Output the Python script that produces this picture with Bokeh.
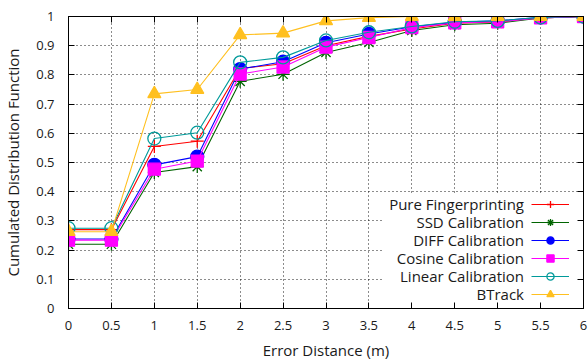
from bokeh.plotting import figure
from bokeh.models import (Range1d, FixedTicker, LinearAxis, Legend, LegendItem,
                          Label, BoxAnnotation)
from bokeh.embed import file_html
from bokeh.resources import INLINE

# ---- data ----
distance = [0, 0.5, 1, 1.5, 2, 2.5, 3, 3.5, 4, 4.5, 5, 5.5, 6]
pure = [0.270, 0.270, 0.555, 0.573, 0.822, 0.838, 0.900, 0.932, 0.957, 0.977, 0.981, 0.995, 1.0]
ssd = [0.220, 0.220, 0.466, 0.486, 0.778, 0.802, 0.877, 0.911, 0.952, 0.972, 0.977, 0.995, 1.0]
diff = [0.238, 0.238, 0.492, 0.520, 0.820, 0.845, 0.910, 0.940, 0.965, 0.980, 0.985, 0.997, 1.0]
cosine = [0.234, 0.234, 0.477, 0.505, 0.803, 0.827, 0.895, 0.928, 0.962, 0.978, 0.982, 0.995, 1.0]
linear = [0.275, 0.275, 0.582, 0.602, 0.843, 0.860, 0.918, 0.946, 0.966, 0.982, 0.985, 0.997, 1.0]
btrack = [0.263, 0.263, 0.735, 0.750, 0.937, 0.943, 0.985, 0.996, 1.0, 1.0, 1.0, 1.0, 1.0]

series_names = ["Pure Fingerprinting", "SSD Calibration", "DIFF Calibration",
                "Cosine Calibration", "Linear Calibration", "BTrack"]
series_values = [pure, ssd, diff, cosine, linear, btrack]
series_colors = ["#ff0000", "#006400", "#0000ff", "#ff00ff", "#009a9a", "#ffc020"]
series_markers = ["cross", "asterisk", "circle", "square", "circle", "triangle"]
series_filled = [False, False, True, True, False, True]
series_sizes = [13, 13, 13, 12, 13, 13]

x_ticks = [0, 0.5, 1, 1.5, 2, 2.5, 3, 3.5, 4, 4.5, 5, 5.5, 6]
x_tick_labels = ["0", "0.5", "1", "1.5", "2", "2.5", "3", "3.5", "4", "4.5", "5", "5.5", "6"]
y_ticks = [0, 0.1, 0.2, 0.3, 0.4, 0.5, 0.6, 0.7, 0.8, 0.9, 1.0]
y_tick_labels = ["0", "0.1", "0.2", "0.3", "0.4", "0.5", "0.6", "0.7", "0.8", "0.9", "1"]
x_title = "Error Distance (m)"
y_title = "Cumulated Distribution Function"

FONT = "Open Sans"

p = figure(width=588, height=362, x_range=Range1d(0, 6), y_range=Range1d(0, 1),
           output_backend="svg", toolbar_location=None,
           min_border_left=67, min_border_right=5, min_border_top=16, min_border_bottom=54)
p.background_fill_color = "white"
p.border_fill_color = "white"
p.outline_line_color = "black"
p.outline_line_width = 1

# axes
for ax, ticks, labels in ((p.xaxis[0], x_ticks, x_tick_labels), (p.yaxis[0], y_ticks, y_tick_labels)):
    ax.ticker = FixedTicker(ticks=ticks)
    ax.major_label_overrides = {t: l for t, l in zip(ticks, labels)}
    ax.major_tick_in = 6
    ax.major_tick_out = 0
    ax.minor_tick_in = 0
    ax.minor_tick_out = 0
    ax.axis_line_color = "black"
    ax.major_tick_line_color = "black"
    ax.major_label_text_font = FONT
    ax.major_label_text_font_size = "13px"
    ax.major_label_text_color = "#1a1a1a"
    ax.axis_label_text_font = FONT
    ax.axis_label_text_font_size = "15px"
    ax.axis_label_text_font_style = "normal"
    ax.axis_label_text_color = "#1a1a1a"

p.xaxis[0].axis_label = x_title
p.yaxis[0].axis_label = y_title
p.xaxis[0].major_label_standoff = 12
p.xaxis[0].axis_label_standoff = 7
p.xaxis[0].axis_label_text_line_height = 0.6
p.yaxis[0].major_label_standoff = 14
p.yaxis[0].axis_label_standoff = 10

# mirrored ticks on top and right
for loc, ticks in (("above", x_ticks), ("right", y_ticks)):
    ax = LinearAxis(ticker=FixedTicker(ticks=ticks))
    ax.major_label_overrides = {t: "" for t in ticks}
    ax.major_label_text_font_size = "0px"
    ax.major_label_standoff = 0
    ax.major_tick_in = 6
    ax.major_tick_out = 0
    ax.minor_tick_in = 0
    ax.minor_tick_out = 0
    ax.axis_line_color = "black"
    ax.major_tick_line_color = "black"
    p.add_layout(ax, loc)

# grid
for g, ticks in ((p.xgrid[0], x_ticks), (p.ygrid[0], y_ticks)):
    g.ticker = FixedTicker(ticks=ticks)
    g.grid_line_color = "black"
    g.grid_line_dash = "1 3"
    g.grid_line_width = 1
    g.grid_line_alpha = 0.9

# white background behind the key
key_bg = BoxAnnotation(left=315, right=516, bottom=5, top=114,
                       left_units="screen", right_units="screen",
                       top_units="screen", bottom_units="screen",
                       fill_color="white", fill_alpha=1.0, line_color=None,
                       level="underlay")
p.add_layout(key_bg)

items = []
for name, vals, col, mk, filled, sz in zip(series_names, series_values, series_colors,
                                           series_markers, series_filled, series_sizes):
    lr = p.line(distance, vals, line_color=col, line_width=1.1)
    sr = p.scatter(distance, vals, marker=mk, size=sz, line_color=col, line_width=1.3,
                   fill_color=col if filled else None)
    items.append(LegendItem(label=" ", renderers=[lr, sr]))

legend = Legend(items=items, location=(463, 5.5), glyph_width=38, glyph_height=18,
                label_width=0, label_height=18, label_standoff=0, padding=0, spacing=0,
                margin=0, background_fill_alpha=0, border_line_color=None,
                label_text_font_size="1px")
p.add_layout(legend, "center")

for i, name in enumerate(series_names):
    p.add_layout(Label(x=455.5, y=104.5 - 18 * i, x_units="screen", y_units="screen",
                       text=name, text_align="right", text_baseline="middle",
                       text_font=FONT, text_font_size="15px", text_color="#1a1a1a"))

open("out.html", "w").write(file_html(p, INLINE))
